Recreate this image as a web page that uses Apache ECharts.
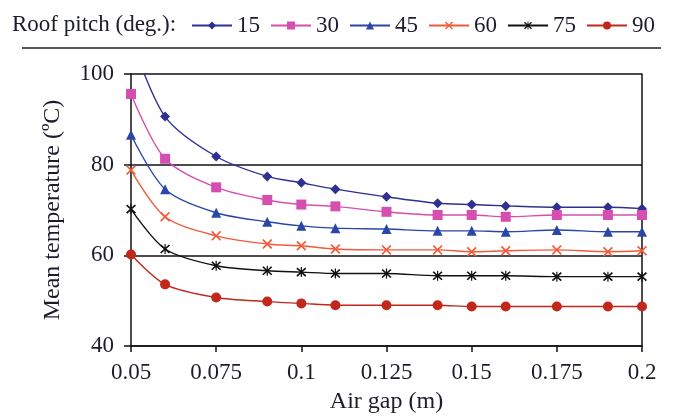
<!doctype html>
<html lang="en">
<head>
    <meta charset="utf-8">
    <title>Mean temperature vs air gap</title>
    <script src="https://cdn.jsdelivr.net/npm/echarts@6/dist/echarts.min.js"></script>
    <style>
        body { margin: 0; background: #fff; }
        #chart { width: 675px; height: 419px; }
    </style>
</head>
<body>
    <div id="chart"></div>
    <script type="text/javascript">
        // air gap (m)
        var airGap = [0.05, 0.06, 0.075, 0.09, 0.1, 0.11, 0.125, 0.14, 0.15, 0.16, 0.175, 0.19, 0.2];
        var pitchNames = ['15', '30', '45', '60', '75', '90'];
        // mean temperature (degC) for each roof pitch
        var temp15 = [108, 90.6, 81.8, 77.4, 76.0, 74.6, 72.9, 71.5, 71.2, 70.9, 70.6, 70.6, 70.3];
        var temp30 = [95.6, 81.3, 75.0, 72.2, 71.2, 70.8, 69.6, 68.9, 68.9, 68.5, 68.9, 68.9, 68.9];
        var temp45 = [86.6, 74.6, 69.4, 67.4, 66.5, 66.0, 65.8, 65.4, 65.4, 65.2, 65.6, 65.2, 65.2];
        var temp60 = [78.8, 68.5, 64.3, 62.5, 62.1, 61.4, 61.2, 61.2, 60.8, 61.0, 61.2, 60.8, 61.0];
        var temp75 = [70.2, 61.4, 57.7, 56.6, 56.3, 56.0, 56.0, 55.5, 55.5, 55.5, 55.3, 55.3, 55.3];
        var temp90 = [60.2, 53.6, 50.7, 49.8, 49.4, 49.0, 49.0, 49.0, 48.7, 48.7, 48.7, 48.7, 48.7];

        var allTemps = [temp15, temp30, temp45, temp60, temp75, temp90];
        var colors = ['#2e3192', '#d64fb0', '#2a47a8', '#f25a3c', '#111111', '#c1271b'];
        var crossPath = 'path://M0,1.2 L1.2,0 L5,3.8 L8.8,0 L10,1.2 L6.2,5 L10,8.8 L8.8,10 L5,6.2 L1.2,10 L0,8.8 L3.8,5 Z';
        var starPath = 'path://M0,1.2 L1.2,0 L5,3.8 L8.8,0 L10,1.2 L6.2,5 L10,8.8 L8.8,10 L5,6.2 L1.2,10 L0,8.8 L3.8,5 Z M4.4,-0.5 L5.6,-0.5 L5.6,10.5 L4.4,10.5 Z';
        var symbols = ['diamond', 'rect', 'triangle', crossPath, starPath, 'circle'];

        var font = '"Liberation Serif", "DejaVu Serif", serif';
        var textColor = '#1c1c2c';

        function pairs(ys) {
            return airGap.map(function (x, i) { return [x, ys[i]]; });
        }

        var series = allTemps.map(function (ys, i) {
            return {
                name: pitchNames[i],
                type: 'line',
                smooth: 0.3,
                clip: true,
                data: pairs(ys),
                symbol: symbols[i],
                symbolSize: 10,
                showAllSymbol: true,
                lineStyle: { color: colors[i], width: 1.4 },
                itemStyle: { color: colors[i] }
            };
        });

        var chart = echarts.init(document.getElementById('chart'));
        var option = {
            animation: false,
            textStyle: { fontFamily: font },
            graphic: [
                {
                    type: 'text', left: 12, top: 13,
                    style: { text: 'Roof pitch (deg.):', font: '23px ' + font, fill: textColor }
                },
                {
                    type: 'line',
                    shape: { x1: 22, y1: 48, x2: 661, y2: 48 },
                    style: { stroke: '#222', lineWidth: 1.5 }
                }
            ],
            legend: {
                left: 191, top: 14, width: 484, padding: 0,
                itemWidth: 40, itemHeight: 10, itemGap: 10,
                textStyle: { fontFamily: font, fontSize: 23, color: textColor },
                data: pitchNames
            },
            grid: { left: 131, right: 33, top: 74, bottom: 71 },
            xAxis: {
                type: 'value',
                min: 0.05, max: 0.2, interval: 0.025,
                name: 'Air gap (m)',
                nameLocation: 'middle',
                nameGap: 44,
                nameTextStyle: { fontFamily: font, fontSize: 24, color: textColor },
                axisLine: { lineStyle: { color: '#111', width: 1.5 } },
                axisTick: { inside: false, length: 6, lineStyle: { color: '#111', width: 1.5 } },
                axisLabel: {
                    fontFamily: font, fontSize: 23, color: textColor, margin: 15,
                    formatter: function (v) { return String(parseFloat(v.toFixed(3))); }
                },
                splitLine: { show: false }
            },
            yAxis: [
                {
                    type: 'value',
                    min: 40, max: 100, interval: 20,
                    name: 'Mean temperature (ºC)',
                    nameLocation: 'middle',
                    nameGap: 66,
                    nameTextStyle: { fontFamily: font, fontSize: 24, color: textColor },
                    axisLine: { show: true, onZero: false, lineStyle: { color: '#111', width: 1.5 } },
                    axisTick: { show: true, inside: false, length: 7, lineStyle: { color: '#111', width: 1.5 } },
                    axisLabel: { fontFamily: font, fontSize: 23, color: textColor, margin: 17 },
                    splitLine: { show: true, lineStyle: { color: '#111', width: 1.5 } }
                },
                {
                    type: 'value',
                    position: 'right',
                    min: 40, max: 100, interval: 20,
                    axisLine: { show: true, onZero: false, lineStyle: { color: '#111', width: 1.5 } },
                    axisTick: { show: false },
                    axisLabel: { show: false },
                    splitLine: { show: false }
                }
            ],
            series: series
        };
        chart.setOption(option);
    </script>
</body>
</html>
